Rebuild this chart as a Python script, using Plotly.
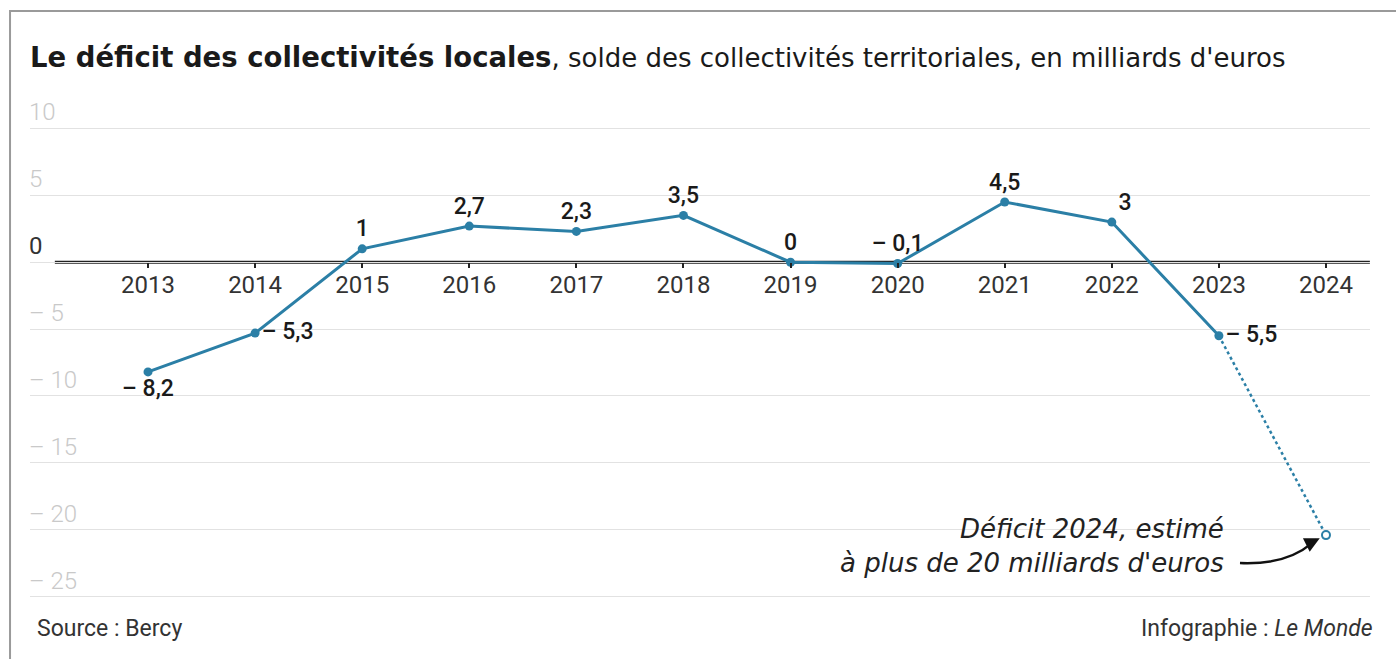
import plotly.graph_objects as go

years = [2013, 2014, 2015, 2016, 2017, 2018, 2019, 2020, 2021, 2022, 2023]
values = [-8.2, -5.3, 1, 2.7, 2.3, 3.5, 0, -0.1, 4.5, 3, -5.5]
est_year = 2024
est_value = -20.4
year_ticks = [2013, 2014, 2015, 2016, 2017, 2018, 2019, 2020, 2021, 2022, 2023, 2024]
y_ticks = [10, 5, 0, -5, -10, -15, -20, -25]
y_ticklabels = ["10", "5", "0", "– 5", "– 10", "– 15", "– 20", "– 25"]
label_positions = ["bottom center", "middle right", "top center", "top center", "top center",
                   "top center", "top center", "top center", "top center", "top right", "middle right"]

BLUE = "#2b7fa6"
FONT = "Roboto"
WIDE = "DejaVu Sans"
Y0, Y1 = -25.4, 12.2


def fr(v):
    s = ("%g" % abs(v)).replace(".", ",")
    return ("– " + s) if v < 0 else s


fig = go.Figure()

fig.add_trace(go.Scatter(
    x=[years[-1], est_year], y=[values[-1], est_value], mode="lines",
    line=dict(color=BLUE, width=2.5, dash="dot"), hoverinfo="skip", showlegend=False))

fig.add_trace(go.Scatter(
    x=years, y=values, mode="lines+markers+text",
    line=dict(color=BLUE, width=3), marker=dict(color=BLUE, size=9),
    text=[fr(v) for v in values], textposition=label_positions,
    textfont=dict(family=FONT, size=23, color="#1a1a1a", weight=500),
    showlegend=False))

fig.add_trace(go.Scatter(
    x=[est_year], y=[est_value], mode="markers",
    marker=dict(color="white", size=8, line=dict(color=BLUE, width=2)),
    showlegend=False))

fig.update_layout(
    width=1396, height=659,
    margin=dict(l=30, r=26, t=99, b=57),
    paper_bgcolor="white", plot_bgcolor="white",
    font=dict(family=FONT),
    xaxis=dict(range=[2011.898, 2024.411], tickvals=year_ticks,
               ticktext=[str(y) for y in year_ticks],
               showgrid=False, zeroline=False, showline=False,
               anchor="free", position=(0 - Y0) / (Y1 - Y0),
               ticks="outside", ticklen=5, tickwidth=1.5, tickcolor="#222",
               ticklabelstandoff=-4,
               tickfont=dict(family=FONT, size=24, color="#333"),
               fixedrange=True),
    yaxis=dict(range=[Y0, Y1], tickvals=y_ticks, showticklabels=False,
               showgrid=True, gridcolor="#e2e2e2", gridwidth=1,
               zeroline=False, showline=False,
               fixedrange=True),
)

# y tick labels, sitting above their gridlines
for v, lab in zip(y_ticks, y_ticklabels):
    dark = (v == 0)
    fig.add_annotation(xref="paper", yref="y", x=-0.002, y=v, text=lab, showarrow=False,
                       xanchor="left", yanchor="bottom", yshift=0,
                       font=dict(family=FONT, size=24,
                                 color="#333" if dark else "#c9c9c9",
                                 weight=400 if dark else 300))

fig.add_shape(type="line", xref="x", yref="y", x0=2012.13, x1=2024.41, y0=0, y1=0,
              line=dict(color="#222", width=3), layer="below")

fig.add_shape(type="rect", xref="paper", yref="paper", x0=-0.0149, x1=1.1, y0=-0.3, y1=1.175,
              line=dict(color="#9a9a9a", width=2))

fig.add_annotation(xref="paper", yref="paper", x=-0.0015, y=1.0835, xanchor="left", yanchor="middle",
                   showarrow=False,
                   text="<span style='font-size:27.5px'><b>Le déficit des collectivités locales</b></span>, solde des collectivités territoriales, en milliards d'euros",
                   font=dict(family=WIDE, size=26, color="#1a1a1a"))

fig.add_annotation(xref="paper", yref="paper", x=0.004, y=-0.0517, xanchor="left", yanchor="middle",
                   showarrow=False, text="Source : Bercy",
                   font=dict(family=FONT, size=23, color="#333"))
fig.add_annotation(xref="paper", yref="paper", x=1.0037, y=-0.0517, xanchor="right", yanchor="middle",
                   showarrow=False, text="Infographie : <i>Le Monde</i>",
                   font=dict(family=FONT, size=23, color="#333"))

fig.add_annotation(xref="x", yref="y", x=est_year, y=est_value, xanchor="right", yanchor="middle",
                   xshift=-100, yshift=-11, showarrow=False, align="right",
                   text="<i>Déficit 2024, estimé<br>à plus de 20 milliards d'euros</i>",
                   font=dict(family=WIDE, size=26, color="#222"))

fig.add_shape(type="path", xref="x", yref="y", xsizemode="pixel", ysizemode="pixel",
              xanchor=est_year, yanchor=est_value,
              path="M -86,-28 Q -40,-30 -14,-8",
              line=dict(color="#111", width=2.5))
fig.add_annotation(xref="x", yref="y", x=est_year, y=est_value, ax=-16, ay=8,
                   showarrow=True, arrowhead=2, arrowsize=1.2, arrowwidth=2.5, arrowcolor="#111",
                   standoff=7, text="")

fig.write_html("out.html")
